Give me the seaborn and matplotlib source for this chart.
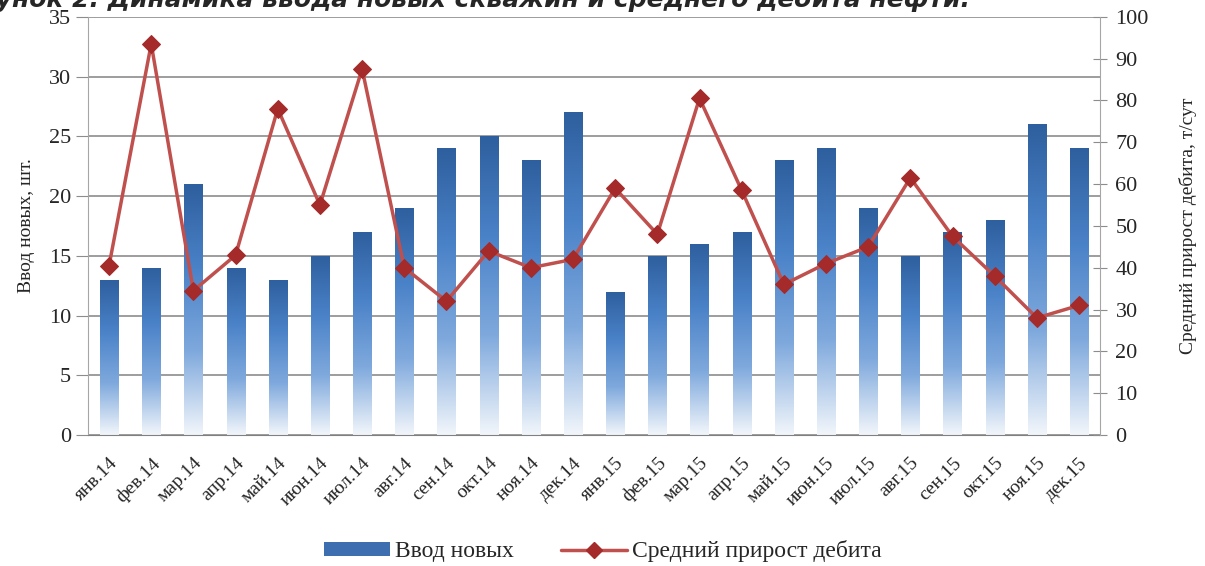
import numpy as np
import pandas as pd
import matplotlib
matplotlib.use("Agg")
import matplotlib.pyplot as plt
import seaborn as sns
from matplotlib.colors import LinearSegmentedColormap
from matplotlib.patches import Patch
from matplotlib.lines import Line2D
from matplotlib.ticker import MultipleLocator, FixedLocator

months = ["янв.14", "фев.14", "мар.14", "апр.14", "май.14", "июн.14", "июл.14", "авг.14",
          "сен.14", "окт.14", "ноя.14", "дек.14", "янв.15", "фев.15", "мар.15", "апр.15",
          "май.15", "июн.15", "июл.15", "авг.15", "сен.15", "окт.15", "ноя.15", "дек.15"]
new_wells = [13, 14, 21, 14, 13, 15, 17, 19, 24, 25, 23, 27,
             12, 15, 16, 17, 23, 24, 19, 15, 17, 18, 26, 24]
avg_gain = [40.5, 93.5, 34.5, 43, 78, 55, 87.5, 40, 32, 44, 40, 42,
            59, 48, 80.5, 58.5, 36, 41, 45, 61.5, 47.5, 38, 28, 31]

title = "Рисунок 2. Динамика ввода новых скважин и среднего дебита нефти."
left_label = "Ввод новых, шт."
right_label = "Средний прирост дебита, т/сут"
bar_name = "Ввод новых"
line_name = "Средний прирост дебита"

df = pd.DataFrame({"month": months, "wells": new_wells, "gain": avg_gain, "pos": range(len(months))})

sns.set_style("white")
plt.rcParams["font.family"] = ["Liberation Serif", "DejaVu Serif"]

fig = plt.figure(figsize=(12.05, 5.66), dpi=100)
ax = fig.add_axes([0.073, 0.2314, 0.840, 0.739])

grid_c = "#8c8c8c"
sns.barplot(data=df, x="month", y="wells", ax=ax, color="#3565a8", width=0.43, zorder=2)

# vertical gradient inside each bar (dark top -> pale bottom)
cmap = LinearSegmentedColormap.from_list("bar", ["#f2f6fb", "#7fa9dd", "#4a82c8", "#2e5f9e"])
grad = np.linspace(0, 1, 256).reshape(-1, 1)
for p in ax.patches:
    x0, w, h = p.get_x(), p.get_width(), p.get_height()
    p.set_facecolor("none")
    p.set_edgecolor("none")
    im = ax.imshow(grad, cmap=cmap, origin="lower", aspect="auto",
                   extent=[x0, x0 + w, 0, h], zorder=2)
    im.set_clip_path(p)

ax.set_xlim(-0.5, len(months) - 0.5)
ax.set_ylim(0, 35)
ax.yaxis.set_major_locator(MultipleLocator(5))
ax.grid(axis="y", color=grid_c, lw=1.2, zorder=0)
ax.grid(axis="x", visible=False)
ax.set_axisbelow(True)
ax.set_xlabel("")
ax.set_ylabel(left_label, fontsize=14, labelpad=10)

ax.set_xticks(range(len(months)))
ax.set_xticklabels(months, rotation=45, ha="right", rotation_mode="anchor", fontsize=14)
ax.xaxis.set_minor_locator(FixedLocator(np.arange(-0.5, len(months), 1)))
ax.tick_params(axis="x", which="major", length=0, pad=14)
ax.tick_params(axis="x", which="minor", length=6, color=grid_c, direction="out")
ax.tick_params(axis="y", length=9, color=grid_c, direction="out", labelsize=16, pad=3)

ax.spines["top"].set_visible(False)
ax.spines["right"].set_visible(False)
ax.spines["left"].set_color("#a6a6a6")
ax.spines["bottom"].set_color("#808080")

ax2 = ax.twinx()
sns.lineplot(data=df, x="pos", y="gain", ax=ax2, color="#c0504d", lw=2.5,
             marker="D", markersize=9, markerfacecolor="#a52a2a", markeredgecolor="#a52a2a", zorder=3)
ax2.set_ylim(0, 100)
ax2.set_xlim(-0.5, len(months) - 0.5)
ax2.yaxis.set_major_locator(MultipleLocator(10))
ax2.set_xlabel("")
ax2.set_ylabel(right_label, fontsize=14, labelpad=22)
ax2.tick_params(axis="y", length=10, color=grid_c, direction="inout", labelsize=16, pad=6)
ax2.grid(False)
for s in ["top", "left", "bottom"]:
    ax2.spines[s].set_visible(False)
ax2.spines["right"].set_color("#a6a6a6")

handles = [Patch(facecolor="#3d6fb0", edgecolor="none"),
           Line2D([], [], color="#c0504d", lw=2.5, marker="D", markersize=8,
                  markerfacecolor="#a52a2a", markeredgecolor="#a52a2a")]
fig.legend(handles, [bar_name, line_name], loc="center", bbox_to_anchor=(0.5, 0.026),
           ncol=2, frameon=False, fontsize=17, handlelength=2.8, handleheight=0.5,
           columnspacing=2.0, handletextpad=0.2)

fig.text(970 / 1205, 1 - 7 / 566, title, ha="right", va="baseline", fontsize=18,
         fontweight="bold", fontstyle="italic", family=["DejaVu Sans"])

fig.savefig("out.png", dpi=100)
